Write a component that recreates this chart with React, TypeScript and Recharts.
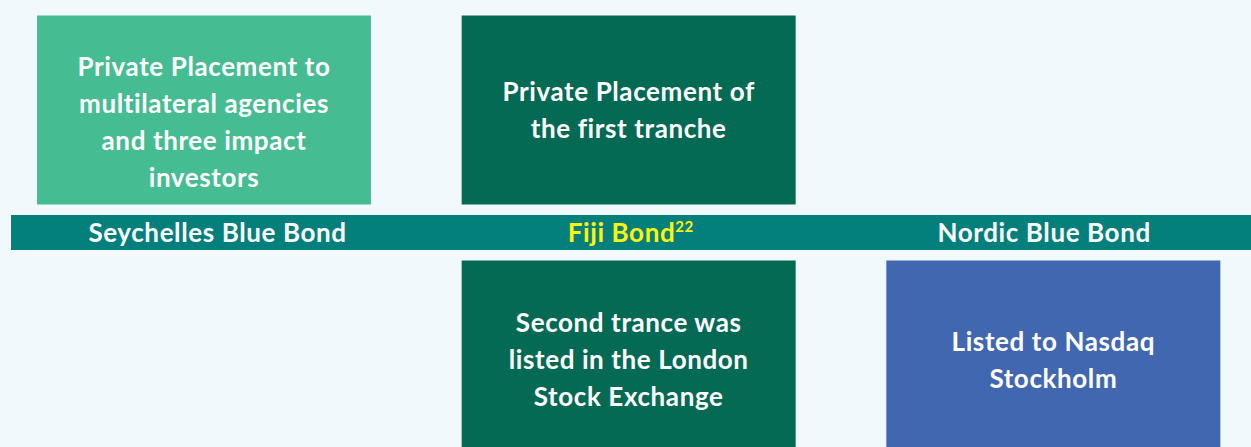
import { BarChart, Bar, XAxis, YAxis, Cell, LabelList, ReferenceArea } from "recharts"

// bonds along the band, left to right
const bonds = ["Seychelles Blue Bond", "Fiji Bond", "Nordic Blue Bond"]
const bondRefs = ["", "22", ""]

// notes shown above / below the band (null = no box)
const aboveNotes: (string[] | null)[] = [
  ["Private Placement to", "multilateral agencies", "and three impact", "investors"],
  ["Private Placement of", "the first tranche"],
  null,
]
const belowNotes: (string[] | null)[] = [
  null,
  ["Second trance was", "listed in the London", "Stock Exchange"],
  ["Listed to Nasdaq", "Stockholm"],
]

// vertical extents in diagram units (band sits around 0)
const BAND_SPAN = [-0.5, 0.5]
const ABOVE_SPAN = [0.8, 6.2]
const BELOW_SPAN = [-6.5, -0.8]

const ABOVE_FILL = ["#45BC92", "#056A54", "#056A54"]
const BELOW_FILL = ["#056A54", "#056A54", "#4267B1"]
const ABOVE_SHIFT = [12, 0, 0]
const BAND_FILL = "#04807C"
const BG = "#F2F9FD"
const FONT = "Lato, 'Open Sans', sans-serif"
const FS = 26
const LS = 0.6
const LINE_H = 37

const rows = bonds.map((name, i) => ({
  name,
  band: BAND_SPAN,
  above: aboveNotes[i] ? ABOVE_SPAN : null,
  below: belowNotes[i] ? BELOW_SPAN : null,
}))

function box(props: any) {
  const vb = props.viewBox || {}
  return {
    x: props.x ?? vb.x,
    y: props.y ?? vb.y,
    width: props.width ?? vb.width,
    height: props.height ?? vb.height,
  }
}

function noteLabel(notes: (string[] | null)[], shift: number[]) {
  return (props: any) => {
    const i = bonds.indexOf(props.value)
    const lines = notes[i]
    if (!lines) return null
    const { x, y, width, height } = box(props)
    const cx = x + width / 2
    const cy = y + height / 2 + (shift[i] || 0)
    const first = cy - ((lines.length - 1) * LINE_H) / 2
    return (
      <text textAnchor="middle" fill="#ffffff" fontFamily={FONT} fontWeight={700} fontSize={FS} letterSpacing={LS}>
        {lines.map((l, k) => (
          <tspan key={k} x={cx} y={first + k * LINE_H + 9}>{l}</tspan>
        ))}
      </text>
    )
  }
}

function bandLabel(props: any) {
  const i = bonds.indexOf(props.value)
  const { x, y, width, height } = box(props)
  const ref = bondRefs[i]
  return (
    <text
      x={x + width / 2}
      y={y + height / 2 + 9.5}
      textAnchor="middle"
      fill={ref ? "#FFF20F" : "#ffffff"}
      fontFamily={FONT}
      fontWeight={700}
      fontSize={FS}
      letterSpacing={LS}
    >
      {bonds[i]}
      {ref ? <tspan dy={-10} fontSize={15}>{ref}</tspan> : null}
    </text>
  )
}

export default function App() {
  return (
    <div style={{ position: "absolute", left: 0, top: 0, width: 1251, height: 447, overflow: "hidden", background: BG }}>
      <BarChart
        width={1251}
        height={460}
        data={rows}
        margin={{ top: 5, right: 0, bottom: 0, left: 11 }}
        barCategoryGap={0}
        barGap={0}
      >
        <XAxis xAxisId="band" dataKey="name" hide />
        <XAxis xAxisId="above" dataKey="name" hide padding={{ left: -19, right: -15 }} />
        <XAxis xAxisId="below" dataKey="name" hide padding={{ left: -19, right: -15 }} />
        <YAxis type="number" domain={[-6.5, 6.5]} allowDataOverflow hide />
        <ReferenceArea
          xAxisId="band"
          y1={BAND_SPAN[0]}
          y2={BAND_SPAN[1]}
          fill={BAND_FILL}
          fillOpacity={1}
          stroke="none"
          ifOverflow="visible"
        />
        <Bar xAxisId="band" dataKey="band" fill="none" isAnimationActive={false}>
          <LabelList dataKey="name" content={bandLabel} />
        </Bar>
        <Bar xAxisId="above" dataKey="above" barSize={334} isAnimationActive={false}>
          {rows.map((_, i) => <Cell key={i} fill={ABOVE_FILL[i]} />)}
          <LabelList dataKey="name" content={noteLabel(aboveNotes, ABOVE_SHIFT)} />
        </Bar>
        <Bar xAxisId="below" dataKey="below" barSize={334} isAnimationActive={false}>
          {rows.map((_, i) => <Cell key={i} fill={BELOW_FILL[i]} />)}
          <LabelList dataKey="name" content={noteLabel(belowNotes, [0, 0, 0])} />
        </Bar>
      </BarChart>
    </div>
  )
}
